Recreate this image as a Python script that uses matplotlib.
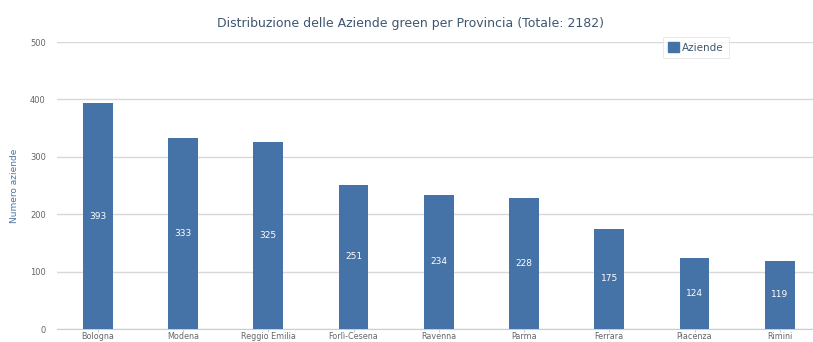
import matplotlib
matplotlib.use("Agg")
import matplotlib.pyplot as plt
from matplotlib.patches import Patch

province = ["Bologna", "Modena", "Reggio Emilia", "Forlì-Cesena", "Ravenna",
            "Parma", "Ferrara", "Piacenza", "Rimini"]
aziende = [393, 333, 325, 251, 234, 228, 175, 124, 119]
y_ticks = [0, 100, 200, 300, 400, 500]

bar_color = "#4572A7"
grid_color = "#d8d8d8"
text_gray = "#666666"

fig = plt.figure(figsize=(8.13, 3.42), dpi=100)
ax = fig.add_axes([0.070, 0.038, 0.930, 0.839])

x = range(len(province))
ax.bar(x, aziende, width=0.35, color=bar_color, zorder=3)
for xi, v in zip(x, aziende):
    ax.text(xi, v / 2, str(v), ha="center", va="center", color="white",
            fontsize=6.5, zorder=4)

ax.set_ylim(0, 500)
ax.set_xlim(-0.48, 8.39)
ax.set_yticks(y_ticks)
ax.set_yticklabels([str(t) for t in y_ticks], fontsize=6, color=text_gray)
ax.set_xticks(list(x))
ax.set_xticklabels(province, fontsize=5.8, color=text_gray)
ax.tick_params(axis="y", length=0, pad=8)
ax.tick_params(axis="x", length=2, color="#c0d0e0", pad=0.5)
ax.yaxis.grid(True, color=grid_color, linewidth=1, zorder=0)
for s in ["top", "right", "left"]:
    ax.spines[s].set_visible(False)
ax.spines["bottom"].set_color("#c0d0e0")

ax.set_ylabel("Numero aziende", fontsize=6.5, color="#4d759e", labelpad=8)
fig.text(0.505, 0.93, "Distribuzione delle Aziende green per Provincia (Totale: 2182)",
         ha="center", va="center", fontsize=9, color="#3e576f")

leg = ax.legend(handles=[Patch(color=bar_color, label="Aziende")],
                loc="upper left", bbox_to_anchor=(0.795, 1.035), fontsize=7.5,
                handlelength=1.0, handleheight=1.0, handletextpad=0.3,
                borderpad=0.5, frameon=True, fancybox=False)
leg.get_frame().set_edgecolor("#e0e0e0")
leg.get_frame().set_linewidth(0.6)
for t in leg.get_texts():
    t.set_color("#3e576f")

fig.savefig("out.png", dpi=100)
